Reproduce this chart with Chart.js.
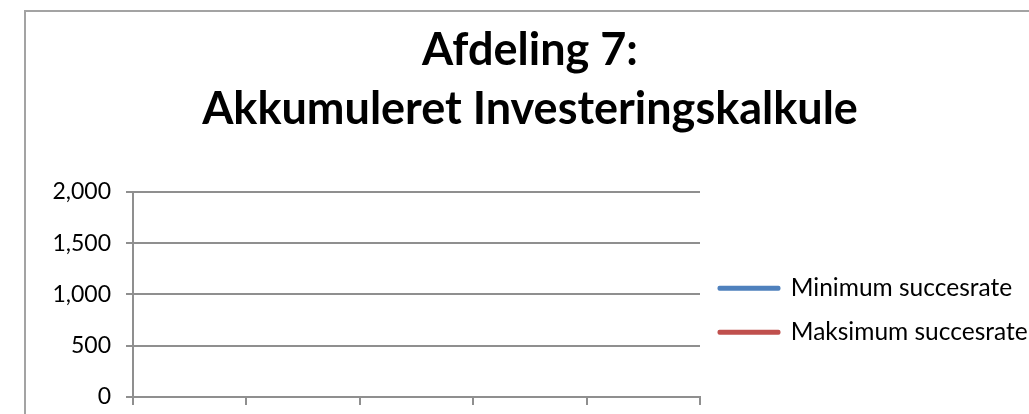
<!DOCTYPE html>
<html>
<head>
<meta charset="utf-8">
<script src="https://cdn.jsdelivr.net/npm/chart.js@4/dist/chart.umd.min.js"></script>
<style>
  html, body { margin: 0; padding: 0; background: #fff; overflow: hidden; }
  #wrap { position: relative; width: 1029px; height: 414px; }
  #frame { position: absolute; left: 24px; top: 10px; width: 1100px; height: 500px;
           border-left: 2px solid #a3a3a3; border-top: 2px solid #a3a3a3; pointer-events: none; }
  canvas { position: absolute; left: 0; top: 0; }
</style>
</head>
<body>
<div id="wrap">
  <div id="frame"></div>
  <canvas id="c" width="1029" height="414"></canvas>
</div>
<script>
const titleLines = ['Afdeling 7:', 'Akkumuleret Investeringskalkule'];
const categories = ['1', '2', '3', '4', '5'];
const seriesNames = ['Minimum succesrate', 'Maksimum succesrate'];
const minimumValues = [null, null, null, null, null];
const maksimumValues = [null, null, null, null, null];
const yTickValues = [0, 500, 1000, 1500, 2000];
const seriesColors = ['#4F81BD', '#C0504D'];

const gridColor = '#8f8f8f';

const legendWidthPlugin = {
  id: 'legendWidth',
  beforeUpdate(chart) {
    const lg = chart.legend;
    if (lg && !lg._fixedWidth) {
      const orig = lg.fit;
      lg.fit = function () { orig.call(this); this.width = 329; };
      lg._fixedWidth = true;
    }
  }
};

new Chart(document.getElementById('c'), {
  type: 'line',
  data: {
    labels: categories,
    datasets: [
      { label: seriesNames[0], data: minimumValues, borderColor: seriesColors[0], backgroundColor: seriesColors[0],
        borderWidth: 4, borderJoinStyle: 'round', borderCapStyle: 'round', pointRadius: 0, fill: false },
      { label: seriesNames[1], data: maksimumValues, borderColor: seriesColors[1], backgroundColor: seriesColors[1],
        borderWidth: 4, borderJoinStyle: 'round', borderCapStyle: 'round', pointRadius: 0, fill: false }
    ]
  },
  options: {
    responsive: false,
    devicePixelRatio: 1,
    animation: false,
    events: [],
    layout: { padding: { left: 31, right: 0, top: 0, bottom: 9 } },
    plugins: {
      title: {
        display: true,
        text: titleLines,
        color: '#000',
        font: { family: 'Lato', size: 45, weight: 'bold', lineHeight: 1.311 },
        padding: { top: 20.6, bottom: 53.4 }
      },
      legend: {
        display: true,
        position: 'right',
        fullSize: false,
        align: 'center',
        title: { display: true, text: ' ', font: { size: 10, lineHeight: 1.2 }, padding: { top: 0, bottom: 19.5 } },
        labels: {
          color: '#000',
          font: { family: 'Lato', size: 24.5 },
          boxWidth: 59,
          boxHeight: 1,
          padding: 19.5
        }
      },
      tooltip: { enabled: false }
    },
    scales: {
      x: {
        type: 'category',
        offset: true,
        grid: { display: true, drawOnChartArea: false, drawTicks: true, tickLength: 8, offset: true,
                color: gridColor, lineWidth: 2 },
        border: { display: true, color: gridColor, width: 2 },
        ticks: { display: false }
      },
      y: {
        min: 0,
        max: 2000,
        afterBuildTicks(scale) { scale.ticks = yTickValues.map(v => ({ value: v })); },
        afterFit(scale) { scale.width = 102; scale.paddingTop = 0; scale.paddingBottom = 0; },
        grid: { color: gridColor, lineWidth: 2, tickLength: 7, drawTicks: true },
        border: { display: true, color: gridColor, width: 2 },
        ticks: {
          color: '#000',
          padding: 15,
          font: { family: 'Lato', size: 23 },
          callback: v => v.toLocaleString('en-US')
        }
      }
    }
  },
  plugins: [legendWidthPlugin]
});
</script>
</body>
</html>
